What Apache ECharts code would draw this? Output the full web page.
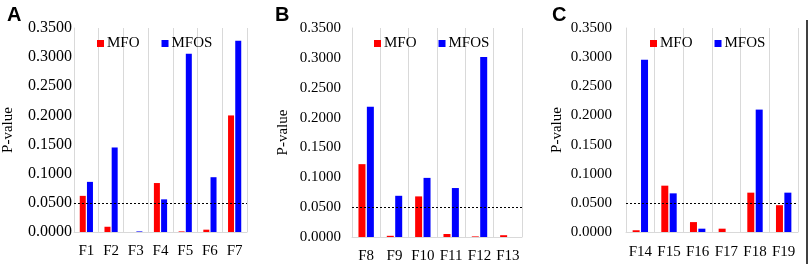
<!DOCTYPE html>
<html>
<head>
<meta charset="utf-8">
<script src="https://cdn.jsdelivr.net/npm/echarts@6/dist/echarts.min.js"></script>
<style>
	html, body { margin: 0; padding: 0; background: #fff; }
	#chart { width: 809px; height: 264px; }
</style>
</head>
<body>
<div id="chart"></div>
<script>
// Panel A
const catsA = [ 'F1', 'F2', 'F3', 'F4', 'F5', 'F6', 'F7' ];
const mfoA = [ 0.062, 0.009, 0, 0.084, 0.001, 0.004, 0.200 ];
const mfosA = [ 0.086, 0.145, 0.001, 0.056, 0.306, 0.094, 0.328 ];

// Panel B
const catsB = [ 'F8', 'F9', 'F10', 'F11', 'F12', 'F13' ];
const mfoB = [ 0.122, 0.002, 0.068, 0.005, 0.001, 0.003 ];
const mfosB = [ 0.218, 0.069, 0.099, 0.082, 0.3015, 0 ];

// Panel C
const catsC = [ 'F14', 'F15', 'F16', 'F17', 'F18', 'F19' ];
const mfoC = [ 0.003, 0.0795, 0.017, 0.0057, 0.0675, 0.046 ];
const mfosC = [ 0.2956, 0.0663, 0.0057, 0, 0.210, 0.0675 ];

const threshold = 0.05;
const seriesNames = [ 'MFO', 'MFOS' ];
const panelLetters = [ 'A', 'B', 'C' ];

const serif = '"Liberation Serif", "Times New Roman", serif';
const gridColor = '#d9d9d9';

const panels = [
	{ cats: catsA, mfo: mfoA, mfos: mfosA, grid: { left: 73, top: 28, width: 174, height: 204 },
		labelMargin: 2, labelSize: 16, nameGap: 58, xMargin: 12, legendLeft: 92, letterLeft: 2, barWidth: 6 },
	{ cats: catsB, mfo: mfoB, mfos: mfosB, grid: { left: 352, top: 28, width: 170, height: 209 },
		labelMargin: 11, labelSize: 15, nameGap: 61, xMargin: 12, legendLeft: 369, letterLeft: 270, barWidth: 7 },
	{ cats: catsC, mfo: mfoC, mfos: mfosC, grid: { left: 626, top: 28, width: 172, height: 204 },
		labelMargin: 14, labelSize: 15, nameGap: 61, xMargin: 13, legendLeft: 645, letterLeft: 547, barWidth: 7 }
];

const chart = echarts.init( document.getElementById( 'chart' ) );

const option = {
	animation: false,
	backgroundColor: '#fff',
	title: [],
	legend: [],
	grid: [],
	xAxis: [],
	yAxis: [],
	series: [],
	graphic: [
		{
			type: 'line',
			shape: { x1: 807, y1: 20, x2: 807, y2: 264 },
			style: { stroke: '#000', lineWidth: 1.5 }
		}
	]
};

panels.forEach( ( p, i ) => {
	option.title.push( {
		text: panelLetters[ i ],
		left: p.letterLeft,
		top: 0,
		textStyle: { fontFamily: '"Liberation Sans", Arial, sans-serif', fontWeight: 'bold', fontSize: 20, color: '#000' }
	} );

	option.legend.push( {
		data: seriesNames,
		left: p.legendLeft,
		top: 31,
		itemWidth: 7,
		itemHeight: 7,
		itemGap: 22,
		icon: 'rect',
		textStyle: { fontFamily: serif, fontSize: 15, color: '#000', padding: [ 0, 0, 0, -2 ] }
	} );

	option.grid.push( Object.assign( { containLabel: false }, p.grid ) );

	option.xAxis.push( {
		type: 'category',
		gridIndex: i,
		data: p.cats,
		axisLine: { show: true, lineStyle: { color: gridColor, width: 1 } },
		axisTick: { show: false },
		axisLabel: { interval: 0, fontFamily: serif, fontSize: 15, color: '#000', margin: p.xMargin },
		splitLine: { show: true, interval: 0, lineStyle: { color: gridColor, width: 1 } }
	} );

	option.yAxis.push( {
		type: 'value',
		gridIndex: i,
		min: 0,
		max: 0.35,
		interval: 0.05,
		name: 'P-value',
		nameLocation: 'middle',
		nameGap: p.nameGap,
		nameTextStyle: { fontFamily: serif, fontSize: 15, color: '#000' },
		axisLine: { show: true, lineStyle: { color: gridColor, width: 1 } },
		axisTick: { show: false },
		axisLabel: {
			fontFamily: serif,
			fontSize: p.labelSize,
			color: '#000',
			margin: p.labelMargin,
			formatter: ( v ) => v.toFixed( 4 )
		},
		splitLine: { show: false }
	} );

	option.series.push( {
		name: 'MFO',
		type: 'bar',
		xAxisIndex: i,
		yAxisIndex: i,
		data: p.mfo,
		barWidth: p.barWidth,
		barGap: '20%',
		itemStyle: { color: '#ff0000' }
	} );

	option.series.push( {
		name: 'MFOS',
		type: 'bar',
		xAxisIndex: i,
		yAxisIndex: i,
		data: p.mfos,
		barWidth: p.barWidth,
		barGap: '20%',
		itemStyle: { color: '#0000ff' },
		markLine: {
			silent: true,
			symbol: 'none',
			label: { show: false },
			lineStyle: { color: '#000', type: [ 2, 2 ], width: 1 },
			data: [ { yAxis: threshold } ]
		}
	} );
} );

chart.setOption( option );
</script>
</body>
</html>
